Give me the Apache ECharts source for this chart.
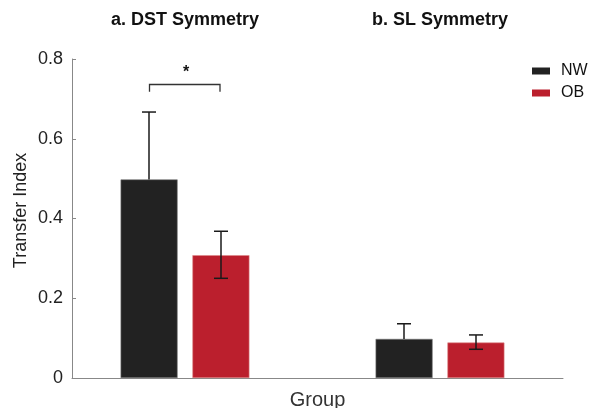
<!DOCTYPE html>
<html><head><meta charset="utf-8">
<script src="https://cdn.jsdelivr.net/npm/echarts@6/dist/echarts.min.js"></script>
<style>html,body{margin:0;padding:0;background:#fff}#c{width:591px;height:408px}</style>
</head><body><div id="c"></div>
<script>
const groups = ['a. DST Symmetry', 'b. SL Symmetry'];
const seriesNames = ['NW', 'OB'];
const nwMean = [0.498, 0.098];
const nwUpper = [0.667, 0.136];
const obMean = [0.308, 0.089];
const obUpper = [0.368, 0.108];
const obLower = [0.250, 0.072];
const sigGroup = 0;          // bracket above DST
const sigLevel = 0.736;      // bracket height
const sigLeg = 0.718;        // bracket leg end
const sigLabel = '*';

const FONT = "'Liberation Sans', Arial, Helvetica, sans-serif";
const OFF = 36; // half distance between bar centres in a group

function errRender(offset, lowerCap) {
  return function (params, api) {
    const c = api.value(0);
    const lo = api.coord([c, api.value(1)]);
    const hi = api.coord([c, api.value(2)]);
    const x = lo[0] + offset;
    const cap = 7;
    const style = { stroke: '#1a1a1a', lineWidth: 1.5 };
    const children = [
      { type: 'line', shape: { x1: x, y1: lo[1], x2: x, y2: hi[1] }, style },
      { type: 'line', shape: { x1: x - cap, y1: hi[1], x2: x + cap, y2: hi[1] }, style }
    ];
    if (lowerCap) children.push({ type: 'line', shape: { x1: x - cap, y1: lo[1], x2: x + cap, y2: lo[1] }, style });
    return { type: 'group', children };
  };
}

const chart = echarts.init(document.getElementById('c'), null, { renderer: 'canvas' });
chart.setOption({
  animation: false,
  backgroundColor: '#fff',
  textStyle: { fontFamily: FONT },
  grid: [
    { left: 57.5, width: 510, top: 59, height: 319, outerBoundsMode: 'none', containLabel: false },
    { left: 72, width: 491, top: 59, height: 319, outerBoundsMode: 'none', containLabel: false }
  ],
  legend: {
    data: seriesNames,
    orient: 'vertical',
    left: 527, top: 58,
    itemWidth: 18, itemHeight: 7, itemGap: 6,
    icon: 'rect',
    itemStyle: { borderWidth: 0 },
    textStyle: { fontSize: 16, color: '#111', fontFamily: FONT, padding: [0, 0, 0, 6] }
  },
  xAxis: [
    { type: 'category', gridIndex: 0, data: groups, position: 'top',
      axisLine: { show: false }, axisTick: { show: false }, splitLine: { show: false },
      axisLabel: { margin: 30, fontSize: 18, fontWeight: 'bold', color: '#111', fontFamily: FONT } },
    { type: 'value', gridIndex: 1, min: 0, max: 1,
      axisLine: { show: true, lineStyle: { color: '#888', width: 1 } },
      axisTick: { show: false }, axisLabel: { show: false }, splitLine: { show: false },
      name: 'Group', nameLocation: 'middle', nameGap: 12,
      nameTextStyle: { fontSize: 20, color: '#333', fontFamily: FONT } }
  ],
  yAxis: [
    { type: 'value', gridIndex: 0, min: 0, max: 0.8, show: false },
    { type: 'value', gridIndex: 1, min: 0, max: 0.8, interval: 0.2,
      axisLine: { show: true, lineStyle: { color: '#888', width: 1 } },
      axisTick: { show: true, inside: true, length: 4, lineStyle: { color: '#888' } },
      splitLine: { show: false },
      axisLabel: { fontSize: 18, color: '#222', margin: 9, fontFamily: FONT,
        formatter: v => v === 0 ? '0' : v.toFixed(1) },
      name: 'Transfer Index', nameLocation: 'middle', nameGap: 42, nameMoveOverlap: false,
      nameTextStyle: { fontSize: 18, color: '#222', fontFamily: FONT, padding: [0, 0, 0, 16] } }
  ],
  series: [
    { name: 'NW', type: 'bar', xAxisIndex: 0, yAxisIndex: 0, data: nwMean,
      barWidth: 57, barGap: '26%',
      itemStyle: { color: '#222222', borderColor: '#777', borderWidth: 0.6 } },
    { name: 'OB', type: 'bar', xAxisIndex: 0, yAxisIndex: 0, data: obMean,
      barWidth: 57, barGap: '26%',
      itemStyle: { color: '#bb1f2d', borderColor: '#d88', borderWidth: 0.6 } },
    { name: 'errNW', type: 'custom', xAxisIndex: 0, yAxisIndex: 0, z: 5,
      renderItem: errRender(-OFF, false),
      data: nwMean.map((m, i) => [i, m, nwUpper[i]]) },
    { name: 'errOB', type: 'custom', xAxisIndex: 0, yAxisIndex: 0, z: 5,
      renderItem: errRender(OFF, true),
      data: obMean.map((m, i) => [i, obLower[i], obUpper[i]]) },
    { name: 'sig', type: 'custom', xAxisIndex: 0, yAxisIndex: 0, z: 5,
      renderItem: function (params, api) {
        const c = api.value(0);
        const top = api.coord([c, api.value(1)]);
        const leg = api.coord([c, api.value(2)]);
        const x1 = top[0] - OFF + 0.5, x2 = top[0] + OFF - 1;
        const style = { stroke: '#333', lineWidth: 1.3, fill: null };
        return { type: 'group', children: [
          { type: 'polyline', shape: { points: [[x1, leg[1]], [x1, top[1]], [x2, top[1]], [x2, leg[1]]] }, style },
          { type: 'text', style: { text: sigLabel, x: top[0] + 1, y: top[1] - 4,
              align: 'center', verticalAlign: 'bottom', fontSize: 16, fontWeight: 'bold',
              fill: '#111', font: 'bold 16px ' + FONT } }
        ]};
      },
      data: [[sigGroup, sigLevel, sigLeg]] }
  ]
});
</script></body></html>
